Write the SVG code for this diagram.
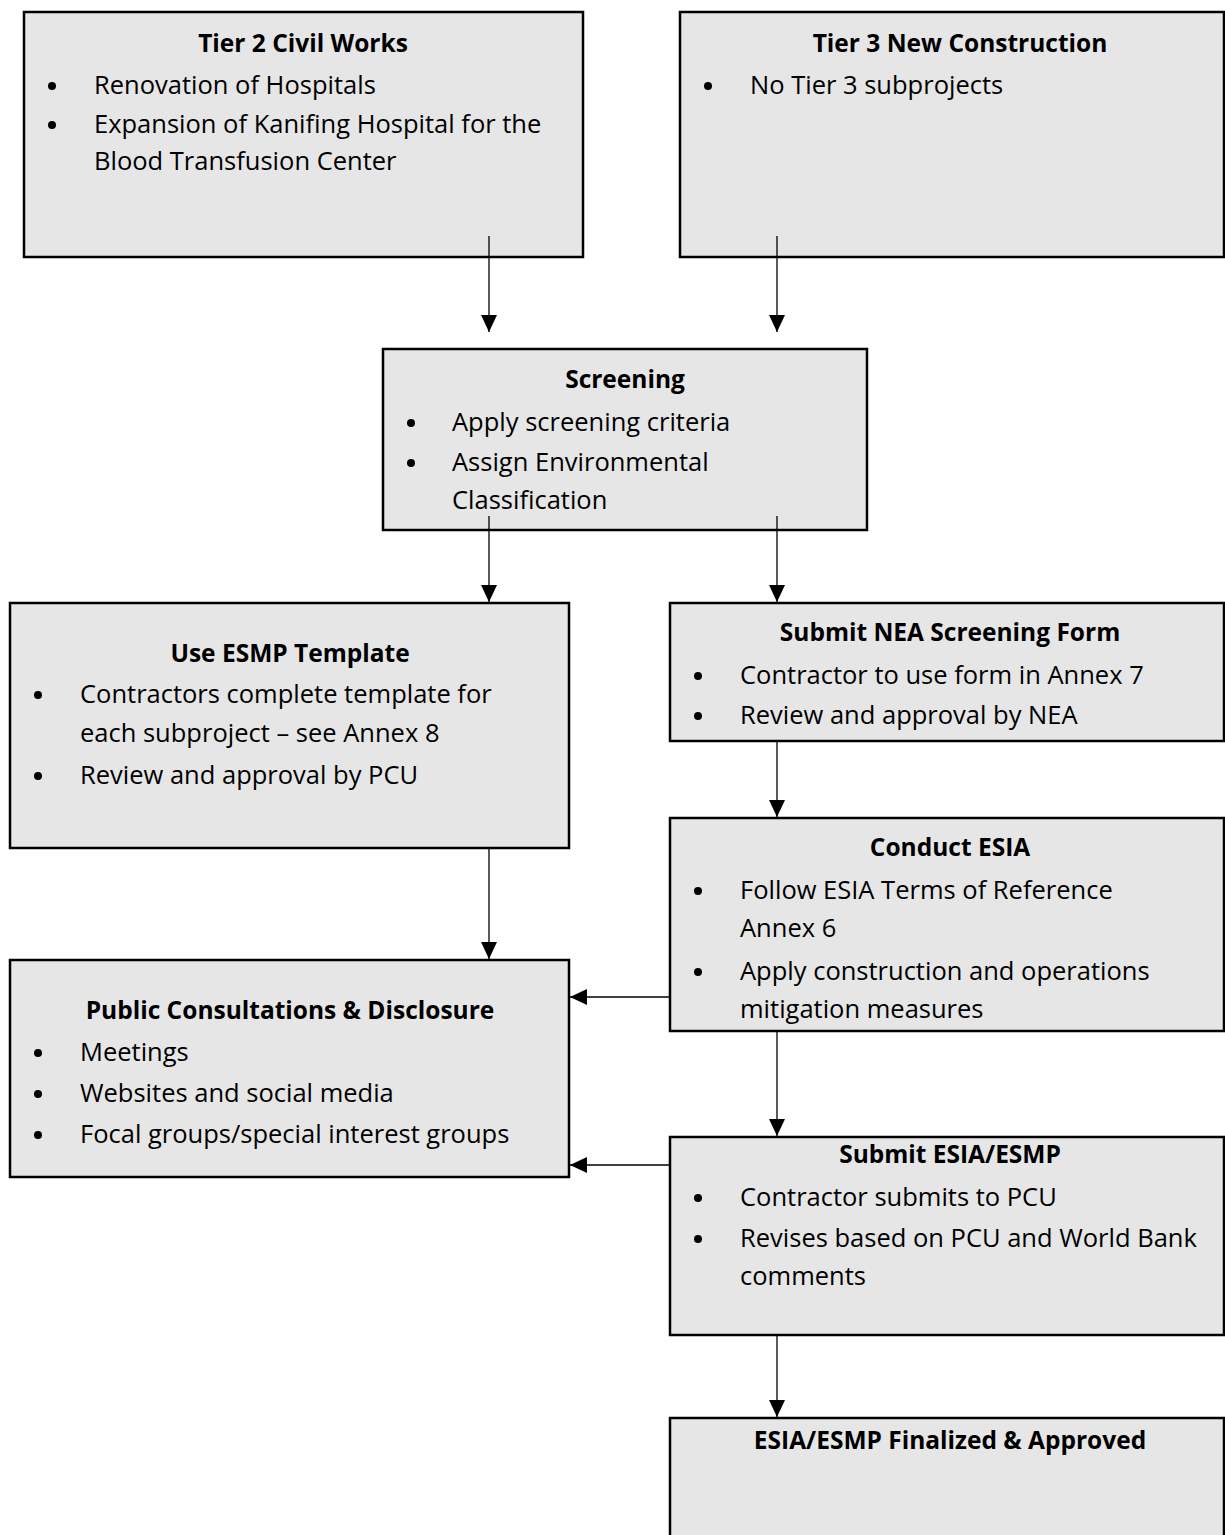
<svg xmlns="http://www.w3.org/2000/svg" width="1225" height="1535" viewBox="0 0 1225 1535">
<style>
.box{fill:#e6e6e6;stroke:#000;stroke-width:2.5}
.t{font-family:"Open Sans","Noto Sans",sans-serif;font-size:25.5px;fill:#000}
.h{font-weight:bold;text-anchor:middle;font-size:24.5px}
.b{fill:#000}
.c{stroke:#000;stroke-width:1.3;fill:none}
</style>
<defs>
<marker id="ah" viewBox="0 0 10 10" refX="10" refY="5" markerWidth="17" markerHeight="17" markerUnits="userSpaceOnUse" orient="auto">
<path d="M0,0.3 L10,5 L0,9.7 z" fill="#000"/>
</marker>
</defs>
<rect width="1225" height="1535" fill="#fff"/>
<g id="tier2">
<rect class="box" x="24" y="12" width="559" height="245"/>
<text class="t h" x="303" y="52">Tier 2 Civil Works</text>
<circle class="b" cx="52" cy="86" r="4"/>
<text class="t" x="94" y="94">Renovation of Hospitals</text>
<circle class="b" cx="52" cy="125" r="4"/>
<text class="t" x="94" y="133">Expansion of Kanifing Hospital for the</text>
<text class="t" x="94" y="170">Blood Transfusion Center</text>
</g>
<g id="tier3">
<rect class="box" x="680" y="12" width="544" height="245"/>
<text class="t h" x="960" y="52">Tier 3 New Construction</text>
<circle class="b" cx="708" cy="86" r="4"/>
<text class="t" x="750" y="94">No Tier 3 subprojects</text>
</g>
<g id="screening">
<rect class="box" x="383" y="349" width="484" height="181"/>
<text class="t h" x="625" y="388">Screening</text>
<circle class="b" cx="411" cy="423" r="4"/>
<text class="t" x="452" y="431">Apply screening criteria</text>
<circle class="b" cx="411" cy="463" r="4"/>
<text class="t" x="452" y="471">Assign Environmental</text>
<text class="t" x="452" y="509">Classification</text>
</g>
<g id="esmp">
<rect class="box" x="10" y="603" width="559" height="245"/>
<text class="t h" x="290" y="662">Use ESMP Template</text>
<circle class="b" cx="38" cy="695" r="4"/>
<text class="t" x="80" y="703">Contractors complete template for</text>
<text class="t" x="80" y="742">each subproject – see Annex 8</text>
<circle class="b" cx="38" cy="776" r="4"/>
<text class="t" x="80" y="784">Review and approval by PCU</text>
</g>
<g id="nea">
<rect class="box" x="670" y="603" width="554" height="138"/>
<text class="t h" x="950" y="641">Submit NEA Screening Form</text>
<circle class="b" cx="698" cy="676" r="4"/>
<text class="t" x="740" y="684">Contractor to use form in Annex 7</text>
<circle class="b" cx="698" cy="716" r="4"/>
<text class="t" x="740" y="724">Review and approval by NEA</text>
</g>
<g id="esia">
<rect class="box" x="670" y="818" width="554" height="213"/>
<text class="t h" x="950" y="856">Conduct ESIA</text>
<circle class="b" cx="698" cy="891" r="4"/>
<text class="t" x="740" y="899">Follow ESIA Terms of Reference</text>
<text class="t" x="740" y="937">Annex 6</text>
<circle class="b" cx="698" cy="972" r="4"/>
<text class="t" x="740" y="980">Apply construction and operations</text>
<text class="t" x="740" y="1018">mitigation measures</text>
</g>
<g id="public">
<rect class="box" x="10" y="960" width="559" height="217"/>
<text class="t h" x="290" y="1019">Public Consultations &amp; Disclosure</text>
<circle class="b" cx="38" cy="1053" r="4"/>
<text class="t" x="80" y="1061">Meetings</text>
<circle class="b" cx="38" cy="1094" r="4"/>
<text class="t" x="80" y="1102">Websites and social media</text>
<circle class="b" cx="38" cy="1135" r="4"/>
<text class="t" x="80" y="1143">Focal groups/special interest groups</text>
</g>
<g id="submit">
<rect class="box" x="670" y="1137" width="554" height="198"/>
<text class="t h" x="950" y="1163">Submit ESIA/ESMP</text>
<circle class="b" cx="698" cy="1198" r="4"/>
<text class="t" x="740" y="1206">Contractor submits to PCU</text>
<circle class="b" cx="698" cy="1239" r="4"/>
<text class="t" x="740" y="1247">Revises based on PCU and World Bank</text>
<text class="t" x="740" y="1285">comments</text>
</g>
<g id="final">
<rect class="box" x="670" y="1418" width="554" height="130"/>
<text class="t h" x="950" y="1449">ESIA/ESMP Finalized &amp; Approved</text>
</g>
<g id="connectors">
<line class="c" x1="489" y1="236" x2="489" y2="332" marker-end="url(#ah)"/>
<line class="c" x1="777" y1="236" x2="777" y2="332" marker-end="url(#ah)"/>
<line class="c" x1="489" y1="516" x2="489" y2="602" marker-end="url(#ah)"/>
<line class="c" x1="777" y1="516" x2="777" y2="602" marker-end="url(#ah)"/>
<line class="c" x1="489" y1="848" x2="489" y2="959" marker-end="url(#ah)"/>
<line class="c" x1="777" y1="741" x2="777" y2="817" marker-end="url(#ah)"/>
<line class="c" x1="777" y1="1031" x2="777" y2="1136" marker-end="url(#ah)"/>
<line class="c" x1="777" y1="1335" x2="777" y2="1417" marker-end="url(#ah)"/>
<line class="c" x1="670" y1="997" x2="570" y2="997" marker-end="url(#ah)"/>
<line class="c" x1="670" y1="1165" x2="570" y2="1165" marker-end="url(#ah)"/>
</g>
</svg>
